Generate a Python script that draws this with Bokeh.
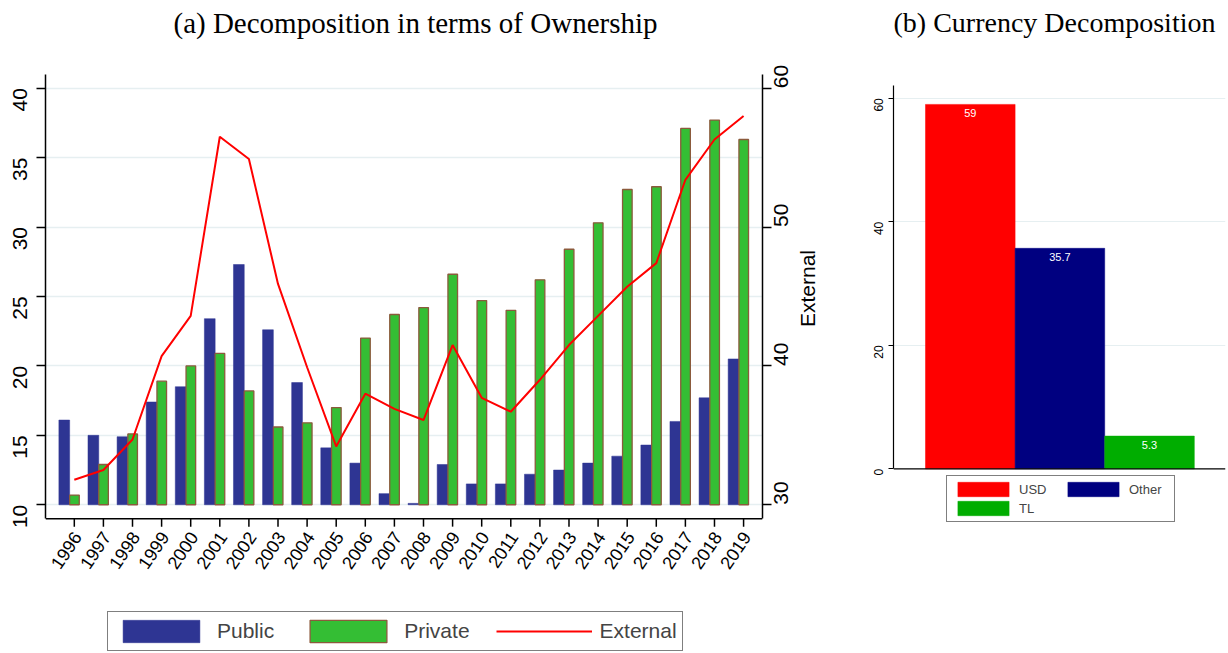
import math
import numpy as np
from bokeh.plotting import figure
from bokeh.models import (Range1d, LinearAxis, FixedTicker, Legend,
                          LegendItem, ColumnDataSource, Span, Label)
from bokeh.transform import dodge
from bokeh.layouts import row
from bokeh.core.properties import value
from bokeh.embed import file_html
from bokeh.resources import INLINE

# ---------------- data ----------------
years = list(range(1996, 2020))
year_labels = [str(y) for y in years]
public = [16.1, 15.0, 14.9, 17.4, 18.5, 23.4, 27.3, 22.6, 18.8, 14.1, 13.0, 10.8,
          10.1, 12.9, 11.5, 11.5, 12.2, 12.5, 13.0, 13.5, 14.3, 16.0, 17.7, 20.5]
private = [10.7, 12.9, 15.1, 18.9, 20.0, 20.9, 18.2, 15.6, 15.9, 17.0, 22.0, 23.7,
           24.2, 26.6, 24.7, 24.0, 26.2, 28.4, 30.3, 32.7, 32.9, 37.1, 37.7, 36.3]
external = [31.8, 32.5, 34.7, 40.7, 43.6, 56.5, 54.9, 45.9, 39.9, 34.2, 38.0, 36.9,
            36.1, 41.5, 37.7, 36.7, 39.0, 41.5, 43.6, 45.7, 47.4, 53.4, 56.3, 58.0]
left_ticks = [10, 15, 20, 25, 30, 35, 40]
right_ticks = [30, 40, 50, 60]

currencies = ["USD", "Other", "TL"]
shares = [59, 35.7, 5.3]
share_labels = ["59", "35.7", "5.3"]
currency_colors = ["#ff0000", "#000080", "#00ad00"]
share_ticks = [0, 20, 40, 60]

title_a = "(a) Decomposition in terms of Ownership"
title_b = "(b) Currency Decomposition"

SANS = "Liberation Sans"
SERIF = "Liberation Serif"
GRID = "#e6eff1"
H = 653

# panel (a) vertical scale: 13.89 px per unit
A_BOT, A_TOP = -0.71, 46.31          # y range of the panel-(a) frame
A_AXIS, A_LIM = 9.0, 40.99           # bottom axis line / top of y axes
EXT_SHIFT = 20.0                     # right axis = left axis + 20
A_TICK = 8 / 13.89                   # tick length in data units

# panel (b) vertical scale: 6.177 px per unit
B_BOT, B_TOP = -29.9, 75.82
B_LIM = 62.06


def style_axis(ax, size, out, standoff):
    ax.axis_line_color = "black"
    ax.axis_line_width = 1.5
    ax.major_tick_line_color = "black"
    ax.major_tick_line_width = 1.5
    ax.major_tick_out = out
    ax.major_tick_in = 0
    ax.minor_tick_line_color = None
    ax.major_label_text_font = SANS
    ax.major_label_text_font_size = size
    ax.major_label_text_color = "black"
    ax.major_label_standoff = standoff


# ---------------- panel (a) ----------------
src = ColumnDataSource(dict(year=years, lab=year_labels, public=public,
                            private=private, external=external))

p1 = figure(width=838, height=H, x_range=Range1d(1995.01, 2019.65),
            y_range=Range1d(A_BOT, A_TOP), output_backend="svg", toolbar_location=None,
            min_border_left=45, min_border_right=76, min_border_top=0,
            min_border_bottom=0)
p1.outline_line_color = None
p1.xgrid.grid_line_color = None
p1.xaxis.visible = False
p1.ygrid.ticker = FixedTicker(ticks=left_ticks)
p1.ygrid.grid_line_color = GRID
p1.ygrid.grid_line_width = 1.5

p1.extra_y_ranges = {"ext": Range1d(A_BOT + EXT_SHIFT, A_TOP + EXT_SHIFT)}

r_pub = p1.vbar(x=dodge("year", -0.345, range=p1.x_range), top="public", bottom=10,
                width=0.37, source=src, fill_color="#2e3593", line_color="#2e3593",
                line_width=0.5)
r_priv = p1.vbar(x=dodge("year", 0.005, range=p1.x_range), top="private", bottom=10,
                 width=0.33, source=src, fill_color="#34be34", line_color="#8b5a3c",
                 line_width=1.3)
r_ext = p1.line(x="year", y="external", source=src, y_range_name="ext",
                line_color="#ff0000", line_width=2)

# bottom (year) axis
p1.add_layout(Span(location=A_AXIS, dimension="width", line_color="black",
                   line_width=1.5))
p1.segment(x0="year", y0=A_AXIS, x1="year", y1=A_AXIS - A_TICK, source=src,
           line_color="black", line_width=1.5)
p1.text(x="year", y=A_AXIS, text="lab", source=src, angle=math.radians(56),
        text_align="right", text_baseline="middle", x_offset=3, y_offset=15,
        text_font=value(SANS), text_font_size="18px", text_color="black")

p1.yaxis.ticker = FixedTicker(ticks=left_ticks)
style_axis(p1.yaxis[0], "21px", 9, 16)
p1.yaxis.major_label_orientation = math.pi / 2
p1.yaxis.bounds = (A_AXIS, A_LIM)

ax_r = LinearAxis(y_range_name="ext", ticker=FixedTicker(ticks=right_ticks))
style_axis(ax_r, "21px", 9, 10)
ax_r.major_label_orientation = math.pi / 2
ax_r.bounds = (A_AXIS + EXT_SHIFT, A_LIM + EXT_SHIFT)
ax_r.axis_label = "External"
ax_r.axis_label_text_font = SANS
ax_r.axis_label_text_font_size = "21px"
ax_r.axis_label_text_font_style = "normal"
ax_r.axis_label_text_color = "black"
ax_r.axis_label_standoff = 9
if "axis_label_orientation" in ax_r.properties():
    ax_r.axis_label_orientation = math.pi / 2
p1.add_layout(ax_r, "right")

p1.add_layout(Label(x=370, y=631, x_units="screen", y_units="screen", text=title_a,
                    text_align="center", text_baseline="alphabetic",
                    text_font=SERIF, text_font_size="29px", text_color="black"))

leg1 = Legend(items=[LegendItem(label="Public", renderers=[r_pub]),
                     LegendItem(label="Private", renderers=[r_priv]),
                     LegendItem(label="External", renderers=[r_ext])],
              location=(62, 2), orientation="horizontal",
              glyph_width=96, glyph_height=28, label_height=28, label_standoff=8,
              spacing=26, padding=5, margin=0,
              label_text_font=SANS, label_text_font_size="21px",
              border_line_color="black", border_line_width=1.5,
              background_fill_color="white", background_fill_alpha=1.0)
p1.add_layout(leg1, "center")

# ---------------- panel (b) ----------------
src2 = ColumnDataSource(dict(x=list(np.arange(len(currencies))), share=shares,
                             lbl=share_labels, color=currency_colors, name=currencies))

p2 = figure(width=390, height=H, x_range=Range1d(-0.857, 2.848),
            y_range=Range1d(B_BOT, B_TOP), output_backend="svg", toolbar_location=None,
            min_border_left=55, min_border_right=3, min_border_top=0,
            min_border_bottom=0)
p2.outline_line_color = None
p2.xgrid.grid_line_color = None
p2.xaxis.visible = False
p2.ygrid.ticker = FixedTicker(ticks=share_ticks[1:])
p2.ygrid.grid_line_color = GRID
p2.ygrid.grid_line_width = 1.2

r_cur = p2.vbar(x="x", top="share", bottom=0, width=1.0, source=src2,
                fill_color="color", line_color="color", line_width=0.5)
p2.text(x="x", y="share", text="lbl", source=src2, text_color="white",
        text_align="center", text_baseline="top", y_offset=5,
        text_font=value(SANS), text_font_size="11px")

p2.add_layout(Span(location=share_ticks[0], dimension="width", line_color="black",
                   line_width=1.2))

p2.yaxis.ticker = FixedTicker(ticks=share_ticks)
style_axis(p2.yaxis[0], "12px", 5, 10)
p2.yaxis.axis_line_width = 1.2
p2.yaxis.major_tick_line_width = 1.2
p2.yaxis.major_label_orientation = math.pi / 2
p2.yaxis.bounds = (0, B_LIM)

p2.add_layout(Label(x=161, y=631, x_units="screen", y_units="screen", text=title_b,
                    text_align="center", text_baseline="alphabetic",
                    text_font=SERIF, text_font_size="28px", text_color="black"))

leg2 = Legend(items=[LegendItem(label=c, renderers=[r_cur], index=i)
                     for i, c in enumerate(currencies)],
              location=(53, 131), orientation="horizontal", ncols=2,
              glyph_width=64, glyph_height=18, label_height=18, label_width=41,
              label_standoff=4, spacing=1, padding=4, margin=0,
              label_text_font=SANS, label_text_font_size="13px",
              border_line_color="black", border_line_width=1.2,
              background_fill_color="white", background_fill_alpha=1.0)
p2.add_layout(leg2, "center")

layout = row(p1, p2, spacing=0)
open("out.html", "w").write(file_html(layout, INLINE))
